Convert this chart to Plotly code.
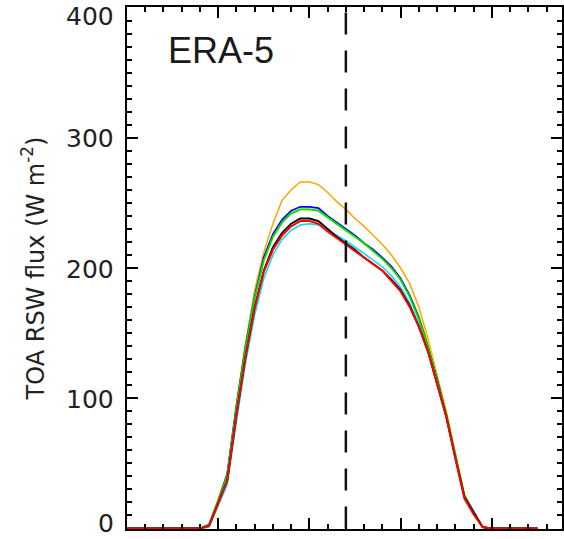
import plotly.graph_objects as go

# Local hour (x) and TOA reflected shortwave flux (W m-2) for each series
hours = [0.0, 0.5, 1.0, 1.5, 2.0, 2.5, 3.0, 3.5, 4.0, 4.5, 5.0, 5.5, 6.0, 6.5, 7.0, 7.5,
         8.0, 8.5, 9.0, 9.5, 10.0, 10.5, 11.0, 11.5, 12.0, 12.5, 13.0, 13.5, 14.0, 14.5,
         15.0, 15.5, 16.0, 16.5, 17.0, 17.5, 18.0, 18.5, 19.0, 19.5, 20.0, 20.5, 21.0,
         21.5, 22.0, 22.5]

night_before = [0, 0, 0, 0, 0, 0, 0, 0, 0]
night_after = [0, 0, 0, 0, 0, 0]

orange_day = [3, 22, 42, 95, 142, 183, 212, 234, 252, 260, 266, 266, 264, 258, 251, 245,
              238, 232, 225, 218, 210, 200, 188, 170, 146, 118, 90, 58, 26, 13, 1]
yellow_day = [3, 22, 42, 95, 141, 178, 206, 224, 235, 242, 245, 245, 244, 239, 234, 229,
              224, 219, 213, 207, 200, 191, 179, 163, 143, 117, 90, 58, 26, 13, 1]
cyan_day = [1, 17, 34, 82, 127, 164, 192, 210, 222, 229, 233, 234, 233, 229, 225, 221,
            216, 211, 206, 201, 194, 185, 173, 157, 137, 113, 87, 55, 24, 12, 1]
blue_day = [3, 21, 42, 94, 140, 178, 208, 226, 237, 244, 247, 247, 246, 240, 235, 230,
            225, 219, 214, 208, 201, 192, 179, 162, 140, 115, 88, 56, 25, 13, 1]
green_day = [3, 21, 41, 93, 139, 177, 206, 224, 235, 242, 245, 245, 244, 239, 234, 229,
             224, 219, 213, 207, 200, 191, 178, 161, 140, 115, 88, 56, 25, 12, 1]
black_day = [2, 19, 37, 87, 132, 170, 198, 216, 227, 234, 238, 238, 236, 230, 224, 219,
             214, 208, 203, 198, 191, 183, 171, 155, 136, 112, 86, 54, 24, 12, 1]
red_day = [2, 19, 37, 87, 132, 169, 197, 214, 225, 232, 236, 236, 234, 228, 223, 218,
           213, 208, 203, 198, 190, 182, 170, 155, 136, 112, 86, 54, 23, 11, 1]

series = [
    ("orange", "#FFA500", orange_day, 1.5),
    ("yellow", "#FFE800", yellow_day, 1.8),
    ("cyan", "#00D8FF", cyan_day, 1.5),
    ("blue", "#0000FF", blue_day, 1.8),
    ("green", "#00E000", green_day, 1.8),
    ("black", "#000000", black_day, 1.8),
    ("red", "#FF0000", red_day, 2.0),
]

noon_hour = 12
y_ticks = [0, 100, 200, 300, 400]
y_tick_labels = ["0", "100", "200", "300", "400"]

fig = go.Figure()
for name, color, day, w in series:
    fig.add_trace(go.Scatter(
        x=hours, y=night_before + day + night_after, mode="lines", name=name,
        line=dict(color=color, width=w), showlegend=False, hoverinfo="skip"))

fig.add_shape(type="line", xref="x", yref="y", x0=noon_hour, x1=noon_hour,
              y0=0, y1=400, line=dict(color="#111111", width=2.5, dash="22px,16px"))

axis_common = dict(showline=True, linecolor="black", linewidth=2, mirror="ticks",
                   ticks="inside", tickcolor="black", tickwidth=2, ticklen=11,
                   showgrid=False, zeroline=False, showticklabels=False)

fig.update_xaxes(range=[0, 23.85], tick0=0, dtick=5,
                 minor=dict(ticks="inside", dtick=1, tick0=0, ticklen=5, tickwidth=2,
                            tickcolor="black", showgrid=False),
                 **axis_common)
fig.update_yaxes(range=[-0.4, 400.4], tickvals=y_ticks,
                 minor=dict(ticks="inside", dtick=10, tick0=0, ticklen=5, tickwidth=2,
                            tickcolor="black", showgrid=False),
                 **axis_common)

# y tick labels as text placed on the y data scale (end labels nudged inside the canvas)
for v, lab in zip(y_ticks, y_tick_labels):
    if v == max(y_ticks):
        shift = -9
    elif v == min(y_ticks):
        shift = 5
    else:
        shift = -1
    fig.add_annotation(text=lab, xref="paper", yref="y", x=-0.026, y=v, yshift=shift,
                       xanchor="right", yanchor="middle", showarrow=False,
                       font=dict(family="DejaVu Sans", size=25, color="#222222"))

fig.add_annotation(text="ERA-5", xref="paper", yref="paper", x=0.09, y=0.916,
                   xanchor="left", yanchor="middle", showarrow=False,
                   font=dict(family="Liberation Sans", size=36, color="#1a1a1a"))
fig.add_annotation(text="TOA RSW flux (W m<sup>-2</sup>)", xref="paper", yref="paper",
                   x=-0.215, y=0.5, xanchor="center", yanchor="middle", textangle=-90,
                   showarrow=False,
                   font=dict(family="DejaVu Sans", size=24, color="#222222"))

fig.update_layout(width=564, height=539, margin=dict(l=127, r=0, t=7, b=10),
                  paper_bgcolor="white", plot_bgcolor="white")

fig.write_html("out.html", config={"displayModeBar": False},
               post_script="document.body.style.margin='0';document.body.style.overflow='hidden';")
